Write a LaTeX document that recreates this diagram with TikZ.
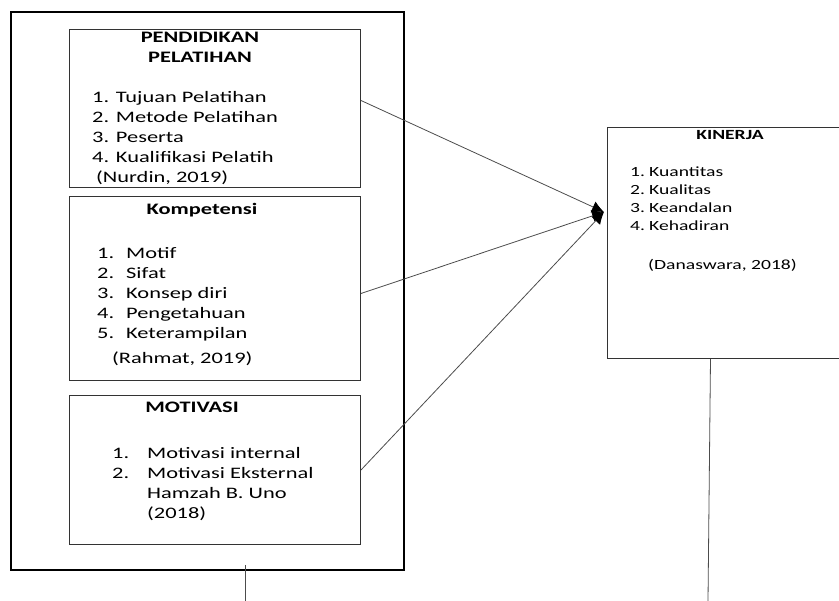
\documentclass[tikz,border=0pt]{standalone}
\usepackage{fontspec}
\setmainfont{Carlito}[FakeStretch=1.4]
\usepackage{tikz}
\usetikzlibrary{arrows.meta, calc, positioning}
\tikzstyle{box} = [rectangle, draw=black!80, line width=1pt, inner sep=0pt, anchor=north west]
\tikzstyle{outerbox} = [rectangle, draw=black, line width=2pt, inner sep=0pt, anchor=north west]
\tikzstyle{heading} = [font=\fontsize{16}{20}\selectfont\bfseries, align=center, inner sep=0pt]
\tikzstyle{items} = [font=\fontsize{16}{20}\selectfont, align=left, inner sep=0pt, anchor=north west]
\tikzstyle{smallitems} = [font=\fontsize{14}{18}\selectfont, align=left, inner sep=0pt, anchor=north west]
\tikzstyle{connector} = [draw=black!70, line width=0.8pt]
\tikzstyle{arrow} = [connector, -{Latex[length=12pt,width=12pt,black]}]
\newcommand{\butir}[3]{\makebox[#1][l]{#2}#3}

\begin{document}
\begin{tikzpicture}[x=1pt, y=-1pt, node distance=8pt]
	\useasboundingbox (0,0) rectangle (839,601);
	\node (Frame) [outerbox, minimum width=393pt, minimum height=558pt] at (10,11) {};
	\node (Pendidikan) [box, minimum width=291pt, minimum height=158pt] at (69,29) {};
	\node (Kompetensi) [box, minimum width=291pt, minimum height=184pt, below=of Pendidikan] {};
	\node (Motivasi) [box, minimum width=291pt, minimum height=149pt, below=14pt of Kompetensi] {};
	\node (Kinerja) [box, minimum width=235pt, minimum height=231pt] at (607,127) {};
	\node (JudulPendidikan) [heading, anchor=north] at (200,31.7) {PENDIDIKAN\\PELATIHAN};
	\node (IsiPendidikan) [items] at (92,91) {1. Tujuan Pelatihan\\2. Metode Pelatihan\\3. Peserta\\4. Kualifikasi Pelatih\\\hspace*{4pt}(Nurdin, 2019)};
	\node (JudulKompetensi) [heading, anchor=base] at (202,215) {Kompetensi};
	\node (IsiKompetensi) [items] at (97,246.8) {\butir{29pt}{1.}{Motif}\\\butir{29pt}{2.}{Sifat}\\\butir{29pt}{3.}{Konsep diri}\\\butir{29pt}{4.}{Pengetahuan}\\\butir{29pt}{5.}{Keterampilan}\\[5pt]\hspace*{15pt}(Rahmat, 2019)};
	\node (JudulMotivasi) [heading, anchor=base] at (192,413) {MOTIVASI};
	\node (IsiMotivasi) [items] at (112,446.8) {\butir{35pt}{1.}{Motivasi internal}\\\butir{35pt}{2.}{Motivasi Eksternal}\\\hspace*{35pt}Hamzah B. Uno\\\hspace*{35pt}(2018)};
	\node (JudulKinerja) [heading, font=\fontsize{14}{18}\selectfont\bfseries, anchor=base] at (730,140) {KINERJA};
	\node (IsiKinerja) [smallitems] at (630,167) {\butir{19pt}{1.}{Kuantitas}\\\butir{19pt}{2.}{Kualitas}\\\butir{19pt}{3.}{Keandalan}\\\butir{19pt}{4.}{Kehadiran}};
	\node (SumberKinerja) [smallitems, anchor=base west] at (648,270) {(Danaswara, 2018)};
	\coordinate (Hub) at (604,212);
	\coordinate (UjungA) at (245,601);
	\coordinate (UjungB) at (708,601);
	\draw [arrow] ([yshift=8pt]Pendidikan.east) -- (Hub);
	\draw [arrow] ([yshift=-5pt]Kompetensi.east) -- (Hub);
	\draw [arrow] (Motivasi.east) -- (Hub);
	\draw [connector] ([yshift=6pt]UjungA |- Frame.south) -- (UjungA);
	\draw [connector] ([xshift=-14.5pt]Kinerja.south) -- (UjungB);
\end{tikzpicture}
\end{document}
